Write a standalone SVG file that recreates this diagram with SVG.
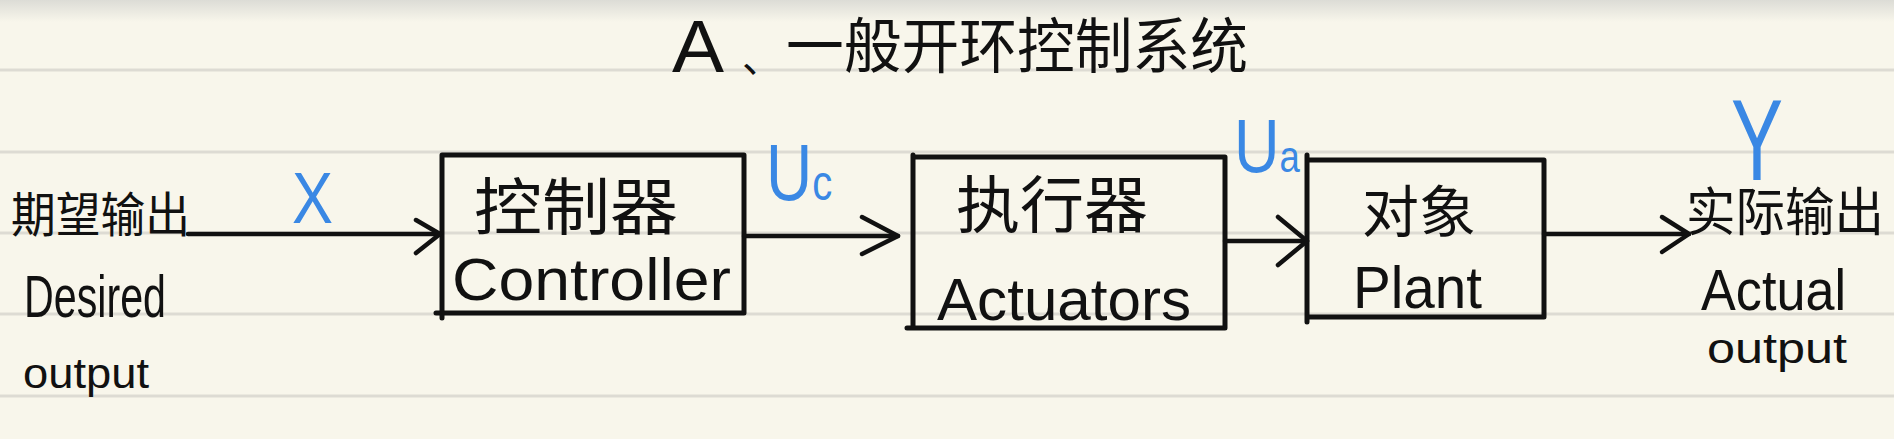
<svg xmlns="http://www.w3.org/2000/svg" width="1894" height="439" viewBox="0 0 1894 439">
<defs>
<linearGradient id="topshade" x1="0" y1="0" x2="0" y2="1">
<stop offset="0" stop-color="#dcdcd6"/>
<stop offset="1" stop-color="#f8f6eb"/>
</linearGradient>
<style>
.rule{stroke:#dddbd3;stroke-width:3;fill:none}
.box{stroke:#111;stroke-width:5;fill:none;stroke-linecap:round;stroke-linejoin:round}
.wire{stroke:#111;stroke-width:4.5;fill:none;stroke-linecap:round;stroke-linejoin:round}
.cn{font-family:"Noto Sans CJK SC","Noto Sans CJK JP",sans-serif;fill:#111}
.en{font-family:"Liberation Sans","DejaVu Sans",sans-serif;fill:#111}
.sig{font-family:"Liberation Sans","DejaVu Sans",sans-serif;fill:#3a88e4}
</style>
</defs>
<rect x="0" y="0" width="1894" height="439" fill="#f8f6eb"/>
<rect x="0" y="0" width="1894" height="22" fill="url(#topshade)"/>
<g id="rules">
<line class="rule" x1="0" y1="70" x2="1894" y2="70"/>
<line class="rule" x1="0" y1="152" x2="1894" y2="152"/>
<line class="rule" x1="0" y1="233" x2="1894" y2="233"/>
<line class="rule" x1="0" y1="314" x2="1894" y2="314"/>
<line class="rule" x1="0" y1="396" x2="1894" y2="396"/>
</g>
<g id="title">
<text class="en" x="672" y="72" font-size="74" textLength="52" lengthAdjust="spacingAndGlyphs">A</text>
<text class="cn" x="742" y="72" font-size="40">、</text>
<text class="cn" x="786" y="68" font-size="60" textLength="462" lengthAdjust="spacingAndGlyphs">一般开环控制系统</text>
</g>
<g id="node-desired-output">
<text class="cn" x="11" y="232" font-size="48" textLength="179" lengthAdjust="spacingAndGlyphs">期望输出</text>
<text class="en" x="24" y="317" font-size="60" textLength="142" lengthAdjust="spacingAndGlyphs">Desired</text>
<text class="en" x="23" y="388" font-size="42" textLength="126" lengthAdjust="spacingAndGlyphs">output</text>
</g>
<g id="node-controller">
<path class="box" d="M442,155 L744,155 L744,313 L436,313 M442,155 L442,318"/>
<text class="cn" x="474" y="230" font-size="62" textLength="204" lengthAdjust="spacingAndGlyphs">控制器</text>
<text class="en" x="452" y="300" font-size="60" textLength="279" lengthAdjust="spacingAndGlyphs">Controller</text>
</g>
<g id="node-actuators">
<path class="box" d="M913,157 L1225,157 L1225,328 L907,328 M913,155 L913,328"/>
<text class="cn" x="956" y="228" font-size="62" textLength="192" lengthAdjust="spacingAndGlyphs">执行器</text>
<text class="en" x="937" y="320" font-size="60" textLength="254" lengthAdjust="spacingAndGlyphs">Actuators</text>
</g>
<g id="node-plant">
<path class="box" d="M1307,160 L1544,160 L1544,317 L1307,317 M1307,155 L1307,322"/>
<text class="cn" x="1362" y="232" font-size="56" textLength="114" lengthAdjust="spacingAndGlyphs">对象</text>
<text class="en" x="1353" y="308" font-size="60" textLength="129" lengthAdjust="spacingAndGlyphs">Plant</text>
</g>
<g id="node-actual-output">
<text class="cn" x="1686" y="231" font-size="52" textLength="198" lengthAdjust="spacingAndGlyphs">实际输出</text>
<text class="en" x="1701" y="310" font-size="58" textLength="145" lengthAdjust="spacingAndGlyphs">Actual</text>
<text class="en" x="1707" y="363" font-size="42" textLength="140" lengthAdjust="spacingAndGlyphs">output</text>
</g>
<g id="connectors">
<line class="wire" x1="188" y1="234" x2="440" y2="234"/>
<polyline class="wire" points="416,220 440,234 416,253"/>
<line class="wire" x1="744" y1="236" x2="898" y2="236"/>
<polyline class="wire" points="862,217 898,236 862,254"/>
<line class="wire" x1="1225" y1="241" x2="1307" y2="241"/>
<polyline class="wire" points="1278,217 1307,241 1278,265"/>
<line class="wire" x1="1544" y1="234" x2="1689" y2="234"/>
<polyline class="wire" points="1662,217 1689,234 1662,252"/>
<text class="sig" x="292" y="223" font-size="72" textLength="41" lengthAdjust="spacingAndGlyphs">X</text>
<text class="sig" transform="translate(766,200) scale(0.8,1)" x="0" y="0" font-size="80">U<tspan font-size="50">c</tspan></text>
<text class="sig" transform="translate(1234,172) scale(0.83,1)" x="0" y="0" font-size="76">U<tspan font-size="44">a</tspan></text>
<text class="sig" transform="translate(1731,180) scale(1,1.75)" x="0" y="0" font-size="66" textLength="52" lengthAdjust="spacingAndGlyphs">Y</text>
</g>
</svg>
